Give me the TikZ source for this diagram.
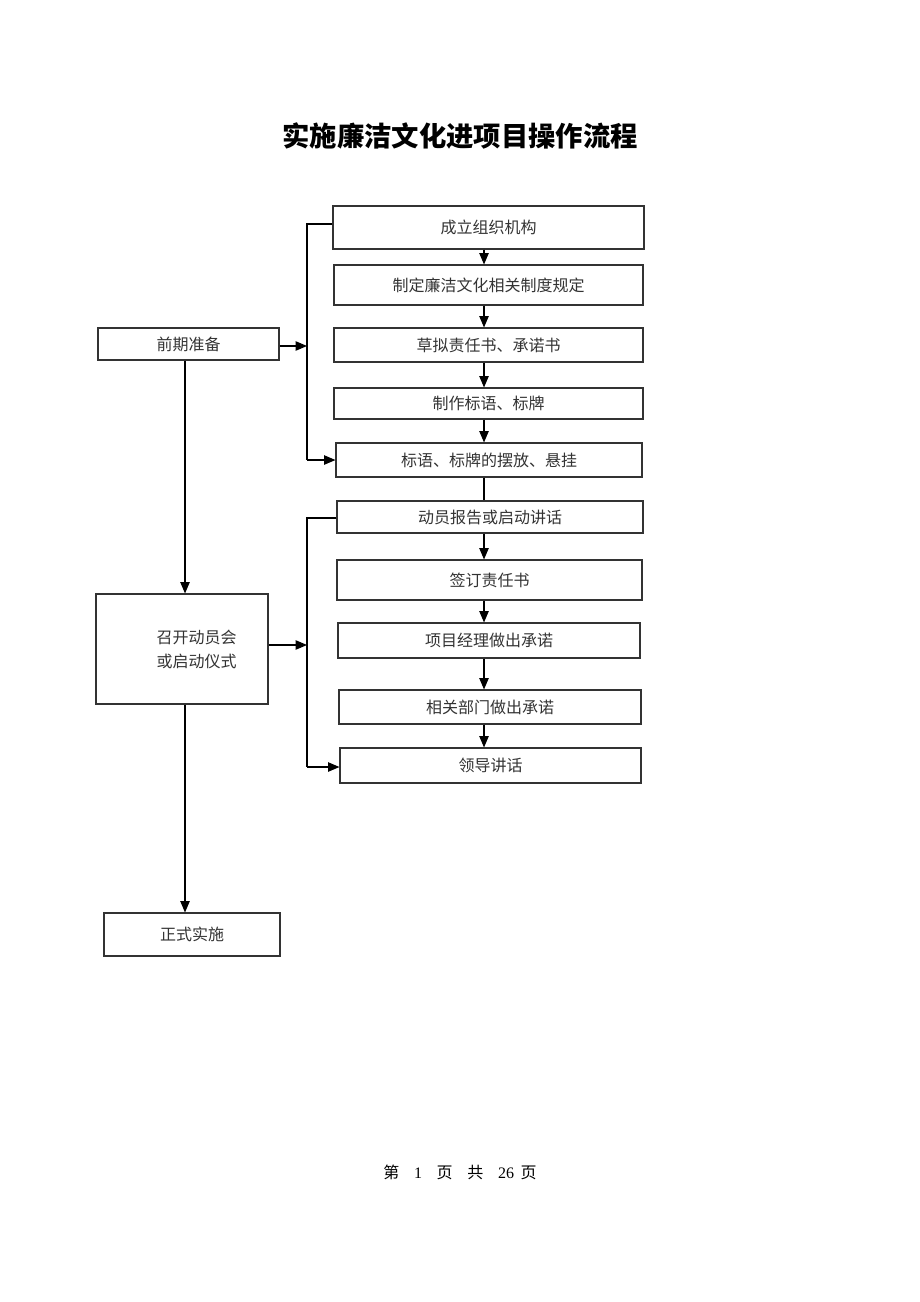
\documentclass[tikz,border=0pt]{standalone}
\usepackage{fontspec}
\setmainfont{Liberation Serif}
\newfontfamily\cjk{Noto Sans CJK SC}
\usetikzlibrary{arrows.meta}
\begin{document}
\begin{tikzpicture}[x=0.75pt,y=-0.75pt,
  box/.style 2 args={draw=black!80, line width=0.8pt, minimum width=#1*0.75pt, minimum height=#2*0.75pt, inner sep=0pt, font=\cjk\fontsize{12pt}{18pt}\selectfont, text=black!80},
  conn/.style={line width=0.9pt, -{Triangle[length=8.5pt,width=7pt]}},
  plain/.style={line width=0.9pt}]
\path[fill=white] (0,0) rectangle (920,1302);
\node[font=\cjk\bfseries\fontsize{20.5pt}{24pt}\selectfont] (title) at (460,136) {实施廉洁文化进项目操作流程};
% right column
\node[box={311}{43}] (b1) at (488.5,227.5) {成立组织机构};
\node[box={309}{40}] (b2) at (488.5,285) {制定廉洁文化相关制度规定};
\node[box={309}{34}] (b3) at (488.5,345) {草拟责任书、承诺书};
\node[box={309}{31}] (b4) at (488.5,403.5) {制作标语、标牌};
\node[box={306}{34}] (b5) at (489,460) {标语、标牌的摆放、悬挂};
\node[box={306}{32}] (b6) at (490,517) {动员报告或启动讲话};
\node[box={305}{40}] (b7) at (489.5,580) {签订责任书};
\node[box={302}{35}] (b8) at (489,640.5) {项目经理做出承诺};
\node[box={302}{34}] (b9) at (490,707) {相关部门做出承诺};
\node[box={301}{35}] (b10) at (490.5,765.5) {领导讲话};
% left column
\node[box={181}{32}] (p) at (188.5,344) {前期准备};
\node[box={172}{110}, align=center] (m) at (182,649) {\hspace*{22pt}召开动员会\\\hspace*{22pt}或启动仪式};
\node[box={176}{43}] (z) at (192,934.5) {正式实施};
\node[font=\fontsize{12pt}{14pt}\selectfont] (foot) at (460,1172) {{\cjk 第}\hspace{11pt}1\hspace{11pt}{\cjk 页}\hspace{11pt}{\cjk 共}\hspace{11pt}26\hspace{5pt}{\cjk 页}};
% arrows in right column
\foreach \a/\b in {b1/b2,b2/b3,b3/b4,b4/b5,b6/b7,b7/b8,b8/b9,b9/b10}
  \draw[conn] (\a.south -| 484,0) -- (\b.north -| 484,0);
\draw[plain] (b5.south -| 484,0) -- (b6.north -| 484,0);
% brackets
\coordinate (k1) at (307,224);
\coordinate (k2) at (307,460);
\draw[plain] (b1.west |- k1) -- (k1) -- (k2);
\draw[conn] (k2) -- (b5.west);
\coordinate (j1) at (307,346);
\draw[conn] (p.east |- j1) -- (j1);
\coordinate (k3) at (307,518);
\coordinate (k4) at (307,767);
\draw[plain] (b6.west |- k3) -- (k3) -- (k4);
\draw[conn] (k4) -- (b10.west |- k4);
\coordinate (j2) at (307,645);
\draw[conn] (m.east |- j2) -- (j2);
% left column arrows
\draw[conn] (p.south -| 185,0) -- (m.north -| 185,0);
\draw[conn] (m.south -| 185,0) -- (z.north -| 185,0);
\end{tikzpicture}
\end{document}
